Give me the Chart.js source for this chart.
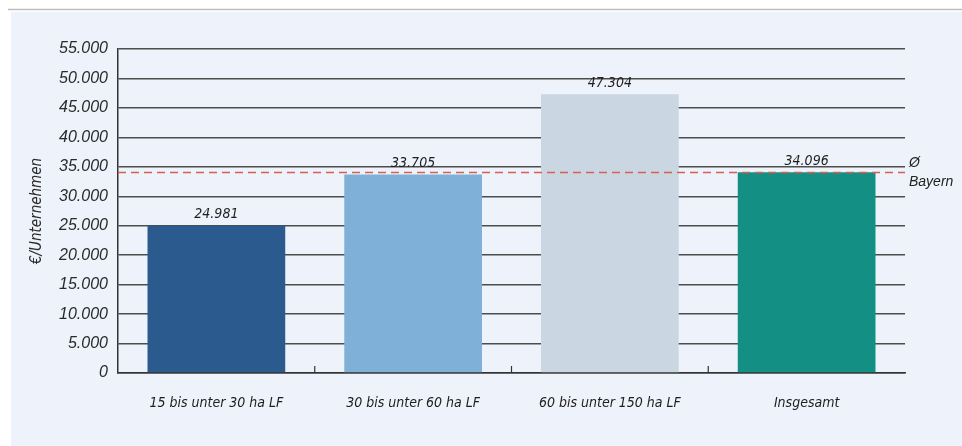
<!DOCTYPE html>
<html lang="de">
  <head>
    <meta charset="UTF-8" />
    <title>Einkommen je Unternehmen</title>
    <script src="https://cdn.jsdelivr.net/npm/chart.js"></script>
    <style>
      html,
      body {
        margin: 0;
        padding: 0;
        background: #ffffff;
      }
      #wrap {
        width: 962px;
        height: 446px;
        position: relative;
      }
    </style>
  </head>
  <body>
    <div id="wrap">
      <canvas id="chart"></canvas>
    </div>

    <script>
      // Daten
      const categories = [
        "15 bis unter 30 ha LF",
        "30 bis unter 60 ha LF",
        "60 bis unter 150 ha LF",
        "Insgesamt",
      ];
      const values = [24981, 33705, 47304, 34096];
      const barColors = ["#2b5a8f", "#7eb0d8", "#cbd6e3", "#148f84"];
      const bayernAvg = 34096;
      const yMin = 0;
      const yMax = 55000;
      const yStep = 5000;

      const narrowFont = "'Liberation Sans Narrow', 'DejaVu Sans Condensed', Arial, sans-serif";
      const fmt = (v) => v.toLocaleString("de-DE");

      // Hintergrund mit Linie oben
      const backgroundPlugin = {
        id: "panelBackground",
        beforeDraw(chart) {
          const ctx = chart.ctx;
          ctx.save();
          ctx.fillStyle = "#ffffff";
          ctx.fillRect(0, 0, chart.width, chart.height);
          ctx.fillStyle = "#eef2fa";
          ctx.fillRect(11, 12, chart.width - 11, chart.height - 12);
          ctx.strokeStyle = "#bdbdbd";
          ctx.lineWidth = 1.5;
          ctx.beginPath();
          ctx.moveTo(8, 9.5);
          ctx.lineTo(chart.width, 9.5);
          ctx.stroke();
          ctx.restore();
        },
      };

      // kleine Striche zwischen den Kategorien, Werte über den Balken, Ø Bayern
      const overlayPlugin = {
        id: "overlay",
        afterDatasetsDraw(chart) {
          const ctx = chart.ctx;
          const x = chart.scales.x;
          const y = chart.scales.y;
          const area = chart.chartArea;
          ctx.save();

          ctx.strokeStyle = "#333333";
          ctx.lineWidth = 1.2;
          for (let i = 0; i < categories.length - 1; i++) {
            const bx = (x.getPixelForValue(i) + x.getPixelForValue(i + 1)) / 2;
            ctx.beginPath();
            ctx.moveTo(bx, area.bottom);
            ctx.lineTo(bx, area.bottom - 7);
            ctx.stroke();
          }

          const meta = chart.getDatasetMeta(0);
          ctx.fillStyle = "#1e1e1e";
          ctx.font = "italic 14px " + narrowFont;
          ctx.textAlign = "center";
          ctx.textBaseline = "bottom";
          meta.data.forEach((bar, i) => {
            ctx.fillText(fmt(values[i]), bar.x, bar.y - 4);
          });

          const ay = Math.round(y.getPixelForValue(bayernAvg)) + 0.5;
          ctx.strokeStyle = "#d6604f";
          ctx.lineWidth = 1.6;
          ctx.setLineDash([8, 5]);
          ctx.beginPath();
          ctx.moveTo(area.left, ay);
          ctx.lineTo(area.right, ay);
          ctx.stroke();
          ctx.setLineDash([]);

          ctx.fillStyle = "#222222";
          ctx.font = "italic 14px Arial, 'Liberation Sans', sans-serif";
          ctx.textAlign = "left";
          ctx.textBaseline = "middle";
          ctx.fillText("Ø", area.right + 4, ay - 9);
          ctx.fillText("Bayern", area.right + 4, ay + 10);
          ctx.restore();
        },
      };

      new Chart(document.getElementById("chart"), {
        type: "bar",
        data: {
          labels: categories,
          datasets: [
            {
              data: values,
              backgroundColor: barColors,
              borderWidth: 0,
              categoryPercentage: 1,
              barPercentage: 0.7,
            },
          ],
        },
        options: {
          responsive: true,
          maintainAspectRatio: false,
          animation: false,
          layout: {
            padding: { left: 28, right: 57, top: 49, bottom: 8 },
          },
          plugins: {
            legend: { display: false },
            tooltip: { enabled: false },
          },
          scales: {
            x: {
              grid: { display: false },
              border: { display: true, color: "#333333", width: 1.5 },
              ticks: {
                color: "#1e1e1e",
                padding: 14,
                font: { family: narrowFont, size: 14, style: "italic" },
              },
              afterFit(scale) {
                scale.height = 65;
              },
            },
            y: {
              min: yMin,
              max: yMax,
              ticks: {
                stepSize: yStep,
                color: "#2a2a2a",
                padding: 10,
                font: { family: "Arial, 'Liberation Sans', sans-serif", size: 16, style: "italic" },
                callback: (v) => fmt(v),
              },
              grid: {
                color: "#4d4d4d",
                lineWidth: 1.5,
                drawTicks: false,
              },
              border: { display: true, color: "#333333", width: 1.5 },
              title: {
                display: true,
                text: "€/Unternehmen",
                color: "#2a2a2a",
                padding: { top: 0, bottom: 4 },
                font: { family: narrowFont, size: 15, style: "italic" },
              },
              afterFit(scale) {
                scale.width = 90;
              },
            },
          },
        },
        plugins: [backgroundPlugin, overlayPlugin],
      });
    </script>
  </body>
</html>
